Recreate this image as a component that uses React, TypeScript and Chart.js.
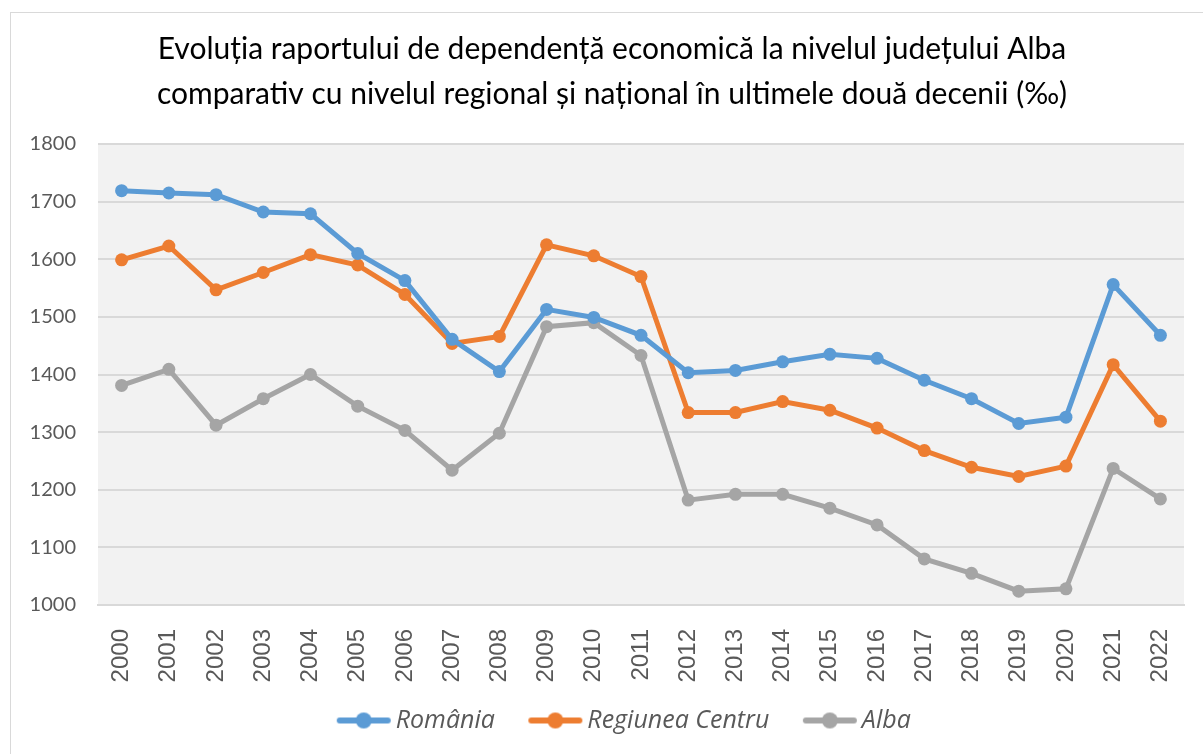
import React, { useEffect, useRef } from "react";
import { Chart, registerables } from "chart.js";

Chart.register(...registerables);

const years = ["2000","2001","2002","2003","2004","2005","2006","2007","2008","2009","2010","2011","2012","2013","2014","2015","2016","2017","2018","2019","2020","2021","2022"];
const romania = [1719,1715,1712,1682,1679,1610,1563,1461,1405,1513,1499,1468,1403,1407,1422,1435,1428,1390,1358,1315,1326,1556,1468];
const centru = [1599,1623,1547,1577,1608,1590,1539,1454,1466,1625,1606,1570,1334,1334,1353,1338,1307,1268,1239,1223,1241,1417,1319];
const alba = [1381,1409,1312,1358,1400,1345,1303,1234,1298,1483,1490,1433,1182,1192,1192,1168,1139,1080,1055,1024,1028,1237,1184];
const seriesNames = ["România", "Regiunea Centru", "Alba"];
const titleLines = [
  "Evoluția raportului de dependență economică la nivelul județului Alba",
  "comparativ cu nivelul regional și național în ultimele două decenii (‰)",
];

const colors = ["#5B9BD5", "#ED7D31", "#A5A5A5"];
const FONT = "Lato, 'Noto Sans', sans-serif";
const LEG_PAD = 10;
const LEG_BOX = 70;
const LEG_IMG = LEG_BOX + 17;

function legendIcon(color: string) {
  const c = document.createElement("canvas");
  c.width = LEG_IMG;
  c.height = 20;
  const ctx = c.getContext("2d")!;
  const x0 = LEG_IMG - 56;
  ctx.strokeStyle = color;
  ctx.lineWidth = 6;
  ctx.lineCap = "round";
  ctx.beginPath();
  ctx.moveTo(x0 + 4, 10);
  ctx.lineTo(x0 + 52, 10);
  ctx.stroke();
  ctx.fillStyle = color;
  ctx.beginPath();
  ctx.arc(x0 + 28, 10, 8, 0, Math.PI * 2);
  ctx.fill();
  return c;
}

const bgPlugin = {
  id: "plotBg",
  beforeDraw(chart: any) {
    const { ctx, chartArea } = chart;
    ctx.save();
    ctx.fillStyle = "#ffffff";
    ctx.fillRect(0, 0, chart.width, chart.height);
    ctx.fillStyle = "#F2F2F2";
    ctx.fillRect(chartArea.left, chartArea.top, chartArea.right - chartArea.left, chartArea.bottom - chartArea.top);
    ctx.restore();
  },
};

export default function App() {
  const ref = useRef<HTMLCanvasElement>(null);
  useEffect(() => {
    if (!ref.current) return;
    const icons = colors.map(legendIcon);
    const data = [romania, centru, alba];
    const chart = new Chart(ref.current, {
      type: "line",
      data: {
        labels: years,
        datasets: data.map((d, i) => ({
          label: seriesNames[i],
          data: d,
          borderColor: colors[i],
          backgroundColor: colors[i],
          borderWidth: 5,
          pointRadius: 6.5,
          pointHoverRadius: 6.5,
          pointBorderWidth: 0,
          pointBackgroundColor: colors[i],
          tension: 0,
        })),
      },
      options: {
        animation: false,
        responsive: false,
        layout: { padding: { left: 0, right: 0, top: 0, bottom: 11 } },
        plugins: {
          title: {
            display: true,
            text: titleLines,
            color: "#000000",
            font: { family: FONT, size: 30, weight: "normal" as any, lineHeight: 1.5 },
            padding: { top: 27, bottom: 27 },
          },
          legend: {
            position: "bottom",
            labels: {
              font: { family: "'Open Sans', sans-serif", size: 25, style: "italic" },
              color: "#595959",
              usePointStyle: true,
              pointStyleWidth: LEG_BOX,
              padding: LEG_PAD,
              generateLabels: (ch: any) =>
                ch.data.datasets.map((ds: any, i: number) => ({
                  text: ds.label,
                  fillStyle: colors[i],
                  strokeStyle: colors[i],
                  lineWidth: 0,
                  pointStyle: icons[i],
                  datasetIndex: i,
                  hidden: false,
                  fontColor: "#595959",
                })),
            },
          },
          tooltip: { enabled: false },
        },
        scales: {
          x: {
            offset: true,
            grid: { display: false },
            border: { display: true, color: "#D9D9D9", width: 2 },
            ticks: {
              color: "#595959",
              font: { family: "'Liberation Sans', Arial, sans-serif", size: 24 },
              maxRotation: 90,
              minRotation: 90,
              padding: 16,
              autoSkip: false,
            },
            afterFit: (s: any) => { s.height = 93; },
          },
          y: {
            min: 1000,
            max: 1800,
            grid: { color: "#D9D9D9", lineWidth: 2, drawTicks: false },
            border: { display: false },
            ticks: {
              stepSize: 100,
              color: "#595959",
              font: { family: FONT, size: 20 },
              padding: 22,
              callback: (v: any) => String(v),
            },
            afterFit: (s: any) => { s.width = 98; },
          },
          yRight: {
            position: "right",
            display: true,
            grid: { display: false, drawTicks: false },
            border: { display: false },
            ticks: { display: false },
            afterFit: (s: any) => { s.width = 40; },
          },
        },
      },
      plugins: [bgPlugin],
    });
    return () => chart.destroy();
  }, []);
  return (
    <div style={{ position: "absolute", left: 0, top: 0, width: 1203, height: 754, background: "#fff", overflow: "hidden" }}>
      <canvas ref={ref} width={1224} height={754} style={{ position: "absolute", left: 0, top: 0 }} />
      <div style={{ position: "absolute", left: 10, top: 12, width: 1200, height: 750, border: "1.5px solid #D9D9D9", boxSizing: "border-box", pointerEvents: "none" }} />
    </div>
  );
}
